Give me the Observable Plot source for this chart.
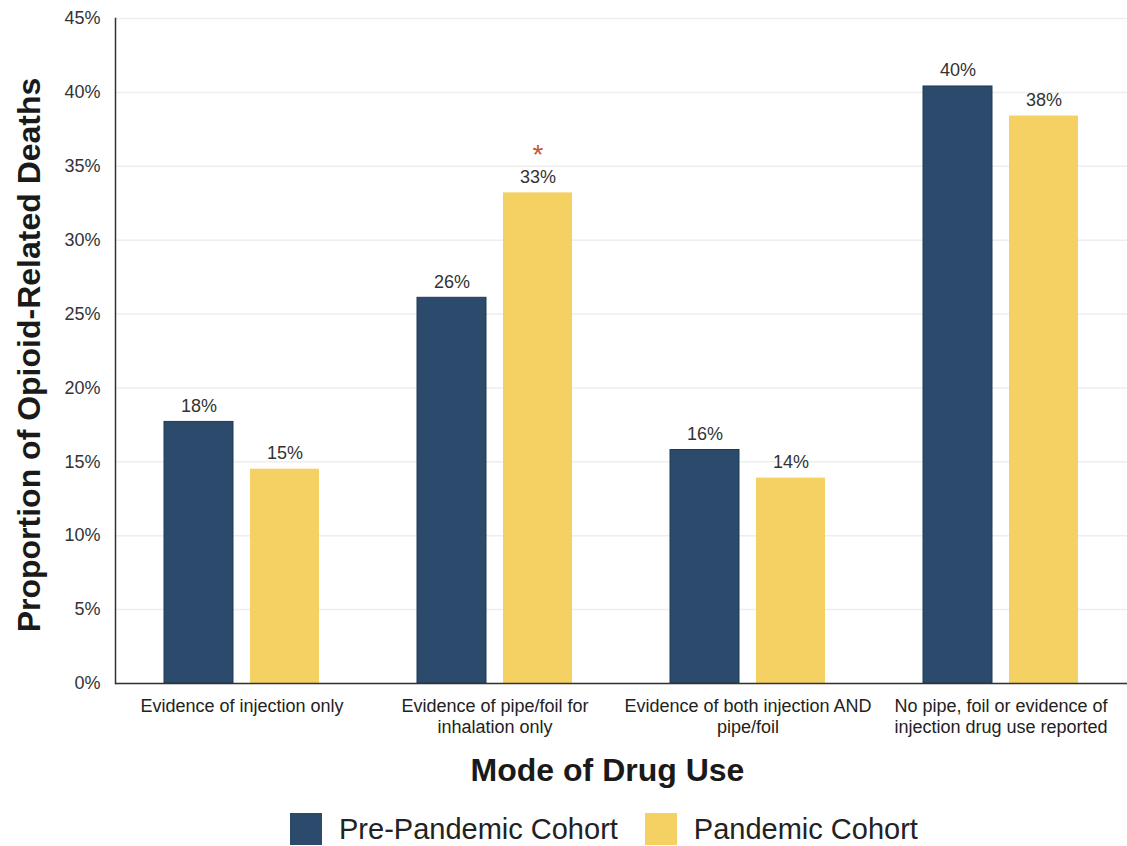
<!DOCTYPE html>
<html>
<head>
<meta charset="utf-8">
<script src="https://cdn.jsdelivr.net/npm/d3@7"></script>
<script src="https://cdn.jsdelivr.net/npm/@observablehq/plot@0.6"></script>
<style>
  html, body { margin: 0; padding: 0; background: #fff; }
  body { width: 1127px; height: 846px; overflow: hidden; font-family: "Liberation Sans", Arial, sans-serif; }
  #legend { display: flex; align-items: center; height: 32px; margin-top: 8px; padding-left: 290px; font-size: 29px; color: #222; }
  #legend .sw { width: 32px; height: 32px; flex: none; }
  #legend .lb { margin-left: 17px; margin-right: 27px; white-space: nowrap; }
</style>
</head>
<body>
<div id="chart"></div>
<div id="legend"></div>
<script>
const categories = [
  "Evidence of injection only",
  "Evidence of pipe/foil for inhalation only",
  "Evidence of both injection AND pipe/foil",
  "No pipe, foil or evidence of injection drug use reported"
];
const categoryLabels = [
  "Evidence of injection only",
  "Evidence of pipe/foil for\ninhalation only",
  "Evidence of both injection AND\npipe/foil",
  "No pipe, foil or evidence of\ninjection drug use reported"
];
const cohorts = ["Pre-Pandemic Cohort", "Pandemic Cohort"];
const prePandemic = [17.7, 26.1, 15.8, 40.4];
const pandemic = [14.5, 33.2, 13.9, 38.4];
const prePandemicLabels = ["18%", "26%", "16%", "40%"];
const pandemicLabels = ["15%", "33%", "14%", "38%"];
const pandemicSignificant = [false, true, false, false];
const yTicks = [0, 5, 10, 15, 20, 25, 30, 35, 40, 45];
const colors = ["#2b4a6c", "#f5d163"];

const rows = [];
categories.forEach((c, i) => {
  rows.push({category: c, cohort: cohorts[0], value: prePandemic[i], label: prePandemicLabels[i], sig: false});
  rows.push({category: c, cohort: cohorts[1], value: pandemic[i], label: pandemicLabels[i], sig: pandemicSignificant[i]});
});

const font = "'Liberation Sans', Arial, sans-serif";

const chart = Plot.plot({
  width: 1127,
  height: 805,
  marginTop: 18,
  marginLeft: 114,
  marginRight: 0,
  marginBottom: 122,
  style: {fontFamily: font, background: "#fff"},
  fx: {domain: categories, padding: 0, label: null, axis: null},
  x: {domain: cohorts, paddingInner: 0.195, paddingOuter: 0.555, axis: null},
  y: {domain: [0, 45], label: null},
  color: {domain: cohorts, range: colors},
  marks: [
    Plot.gridY(yTicks, {stroke: "#eeeeee", strokeOpacity: 1, strokeWidth: 1.5}),
    Plot.barY(rows, {fx: "category", x: "cohort", y: "value", fill: "cohort",
      stroke: d => d.cohort === cohorts[0] ? "#1f3a57" : "none", strokeWidth: 1}),
    Plot.text(rows, {fx: "category", x: "cohort", y: "value", text: "label",
      dy: -10, lineAnchor: "bottom", fontSize: 18, fill: "#333"}),
    Plot.text(rows.filter(d => d.sig), {fx: "category", x: "cohort", y: "value", text: () => "*",
      dy: -29, lineAnchor: "bottom", fontSize: 28, fill: "#c9562f"}),
    Plot.axisY(yTicks, {tickSize: 0, tickPadding: 15, fontSize: 18, fill: "#333",
      tickFormat: d => d + "%", label: null}),
    Plot.axisFx({anchor: "bottom", tickSize: 0, tickPadding: 13, fontSize: 18, fill: "#222", lineHeight: 1.2,
      tickFormat: d => categoryLabels[categories.indexOf(d)], label: null}),
    Plot.ruleY([0], {stroke: "#333", strokeWidth: 1.5}),
    Plot.frame({anchor: "left", facetAnchor: "left", stroke: "#333", strokeWidth: 1.5}),
    Plot.text([{fx: categories[0]}], {fx: "fx", frameAnchor: "left", rotate: -90,
      text: () => "Proportion of Opioid-Related Deaths", dx: -86, dy: 4, textAnchor: "middle",
      fontSize: 32, fontWeight: "bold", fill: "#1a1a1a"}),
    Plot.text([{fx: categories[1]}], {fx: "fx", frameAnchor: "bottom-right",
      text: () => "Mode of Drug Use", dx: -14, dy: 97, textAnchor: "middle",
      fontSize: 32, fontWeight: "bold", fill: "#1a1a1a"})
  ]
});
document.getElementById("chart").appendChild(chart);

const legend = document.getElementById("legend");
cohorts.forEach((c, i) => {
  const sw = document.createElement("div");
  sw.className = "sw";
  sw.style.background = colors[i];
  const lb = document.createElement("div");
  lb.className = "lb";
  lb.textContent = c;
  legend.appendChild(sw);
  legend.appendChild(lb);
});
</script>
</body>
</html>
